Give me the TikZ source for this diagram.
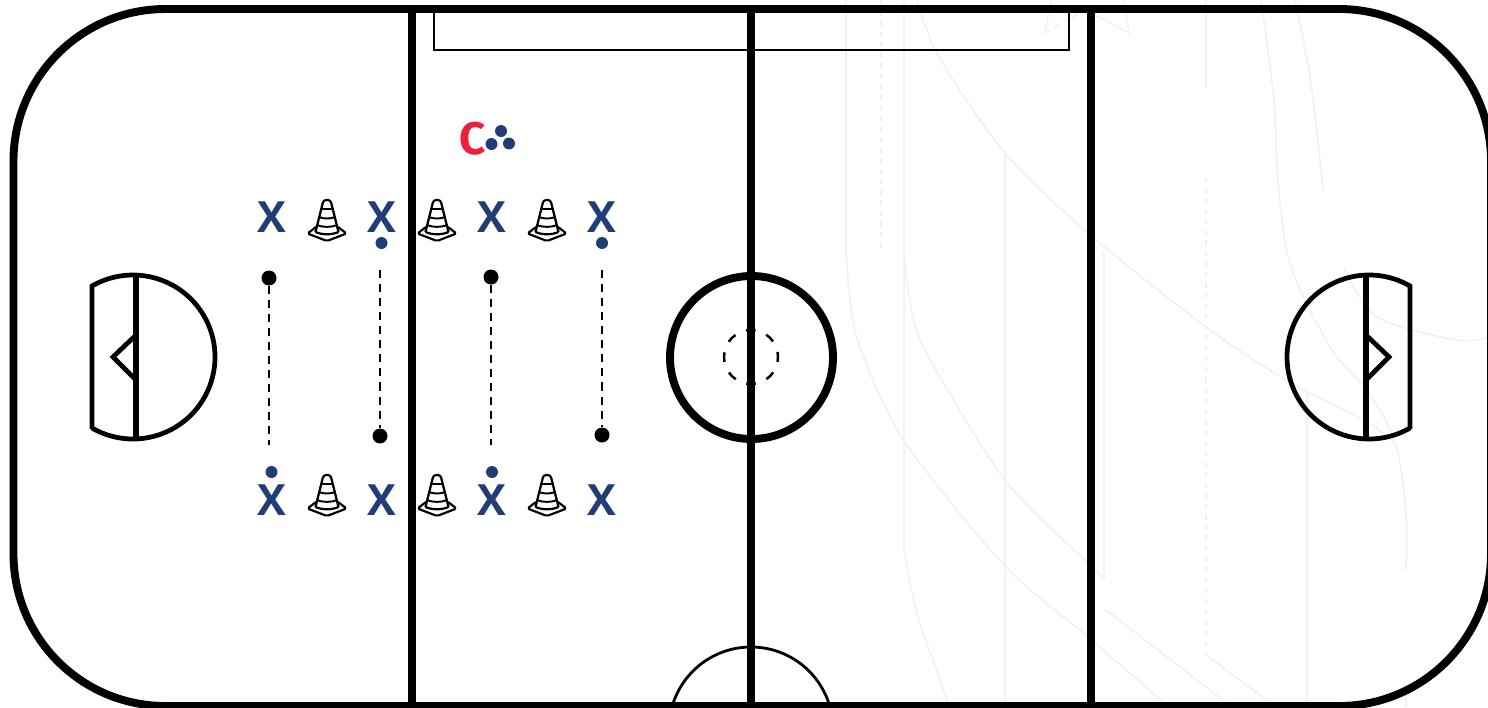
\documentclass[tikz,border=0pt]{standalone}
\usepackage{fontspec}
\setmainfont{Open Sans}
\newfontfamily\coachfont{Fira Sans}
\definecolor{teamblue}{HTML}{223D76}
\definecolor{coachred}{HTML}{ED1F3D}
\definecolor{ghost}{HTML}{F1F1F1}
\tikzset{
  rinkline/.style={line width=4.5pt},
  markline/.style={line width=2.7pt},
  thinline/.style={line width=1.6pt},
  faint/.style={ghost, line width=0.9pt},
  player/.style={font=\fontsize{24.5}{24.5}\selectfont\bfseries, text=teamblue, inner sep=0pt},
  puck/.style={circle, fill=black, inner sep=0pt, minimum size=0.3cm},
  ball/.style={circle, fill=teamblue, inner sep=0pt, minimum size=0.24cm},
  drill/.style={line width=1.2pt, dash pattern=on 4.6pt off 3.4pt},
  cone/.pic={
    \draw[line width=1.25pt, line join=round, rounded corners=1pt] (-11,27) -- (-19.5,33.5) -- (0,41) -- (19.5,33.5) -- (11,27);
    \draw[line width=1.25pt, line join=round, rounded corners=1.5pt] (-11.5,32) -- (-3.5,0) -- (3.5,0) -- (11.5,32);
    \draw[line width=1.25pt] (-11.5,32) .. controls (-5,35) and (5,35) .. (11.5,32);
    \draw[line width=1.1pt] (-7,9) -- (7,9);
    \draw[line width=1.1pt] (-8.5,17) .. controls (-3,19) and (3,19) .. (8.5,17);
    \draw[line width=1.1pt] (-10.5,25) .. controls (-4,27.5) and (4,27.5) .. (10.5,25);
  },
  crease/.pic={
    % half circle, goal line and net
    \draw[markline, line join=miter] (92,429) -- (92,286) arc[start angle=-120, end angle=120, radius=82];
    \draw[line width=3.4pt] (136,275) -- (136,439);
    \draw[markline] (136,335) -- (113,357) -- (136,380);
  }
}

\begin{document}
\begin{tikzpicture}[x=0.02cm, y=-0.02cm]

\useasboundingbox (0,0) rectangle (1488,707);
\clip (0,0) rectangle (1488,707);

% faint traces on the right half
\draw[faint] (846,0) -- (846,250) plot[smooth] coordinates {(846,250) (850,300) (861,350) (904,441) (1005,566) (1088,637) (1169,707)};
\draw[faint] (904,0) -- (904,550) plot[smooth] coordinates {(904,550) (918,617) (950,707)};
\draw[faint] plot[smooth] coordinates {(904,250) (909,295) (925,350) (1005,480) (1088,563) (1104,578)} -- (1104,252);
\draw[faint] plot[smooth] coordinates {(917,0) (939,57) (1005,153) (1088,233) (1206,327) (1286,380) (1369,423) (1396,445)};
\draw[faint] plot[smooth] coordinates {(1261,0) (1274,100) (1278,183) (1291,267) (1332,350) (1369,393) (1396,445) (1406,517) (1406,570)};
\draw[faint] plot[smooth] coordinates {(1344,268) (1377,317) (1456,340) (1488,337)};
\draw[faint] plot[smooth] coordinates {(1295,0) (1311,83) (1323,190)};
\draw[faint] (1106,610) -- (1232,707);
\draw[faint] (1206,655) -- (1276,707);
\draw[faint] (1005,153) -- (1005,707);
\draw[faint] (1206,0) -- (1206,88);
\draw[faint] (1307,392) -- (1307,707);
\draw[faint] (1406,693) -- (1406,707);
\draw[faint, dashed] (881,0) -- (881,250);
\draw[faint, dashed] (1206,177) -- (1206,655);
\draw[faint] (1051,0) -- (1045,33);
\draw[faint, dashed] (1045,33) -- (1078,14);
\draw[faint] (1092,13) -- (1129,33) -- (1124,0);

% rink
\draw[rinkline, rounded corners=3.04cm] (13.5,9) rectangle (1491,706);
\draw[rinkline] (412,9) -- (412,706);
\draw[rinkline] (751,9) -- (751,706);
\draw[rinkline] (1091,9) -- (1091,706);

% bench box and lower arc
\draw[thinline, line join=miter] (434,9) -- (434,50) -- (1069,50) -- (1069,9);
\draw[thinline] (751,729) circle [radius=82];

% centre circle
\draw[rinkline] (751.5,357.5) circle [radius=81.5];
\draw[line width=1.4pt, dash pattern=on 5.5pt off 6.53pt, dash phase=2.75pt] (751,357) circle [radius=27];

% creases
\pic at (0,0) {crease};
\pic[xscale=-1] at (1502,0) {crease};

% coach and pucks
\node[font=\coachfont\fontsize{26}{26}\selectfont\bfseries, text=coachred, inner sep=0pt] (coach) at (472.5,138.5) {C};
\node[ball] (pileA) at (501,131) {};
\node[ball] (pileB) at (491.5,144) {};
\node[ball] (pileC) at (509,143.5) {};

% players
\node[player] (topA) at (271.5,217.5) {X};
\node[player] (topB) at (381.5,217.5) {X};
\node[player] (topC) at (491.5,217.5) {X};
\node[player] (topD) at (601.5,217.5) {X};
\node[player] (botA) at (271.5,500) {X};
\node[player] (botB) at (381.5,500) {X};
\node[player] (botC) at (491.5,500) {X};
\node[player] (botD) at (601.5,500) {X};
\node[ball] (ballB) at (381.5,243) {};
\node[ball] (ballD) at (602,243) {};
\node[ball] (ballA) at (271.5,472) {};
\node[ball] (ballC) at (492,472) {};

% cones
\foreach \cx in {327,437,547} {
  \pic at (\cx,200) {cone};
  \pic at (\cx,475) {cone};
}

% drill lines
\node[puck] (puckA) at (269,278) {};
\node[puck] (puckB) at (380,436) {};
\node[puck] (puckC) at (491,277) {};
\node[puck] (puckD) at (602,435) {};
\coordinate (endA) at (269,445);
\coordinate (endB) at (380,270);
\coordinate (endC) at (491,445);
\coordinate (endD) at (602,270);
\draw[drill] (puckA) -- (endA);
\draw[drill] (endB) -- (puckB);
\draw[drill] (puckC) -- (endC);
\draw[drill] (endD) -- (puckD);

\end{tikzpicture}
\end{document}
